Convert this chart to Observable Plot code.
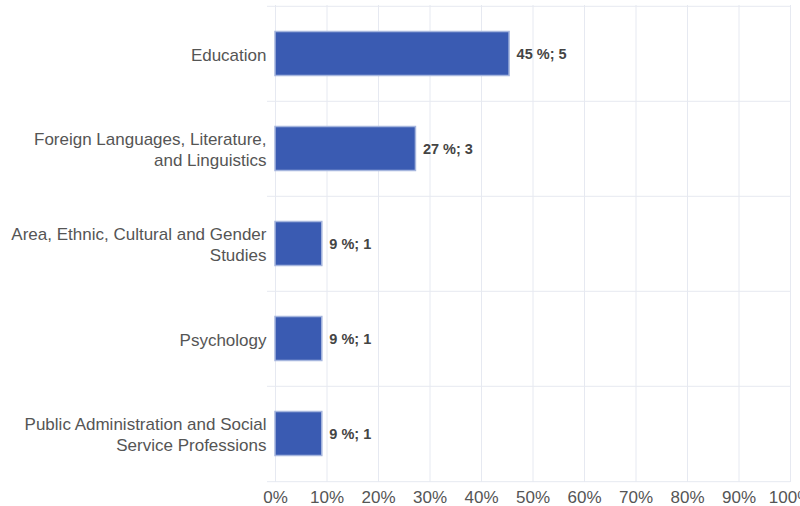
<!DOCTYPE html>
<html>
<head>
<meta charset="utf-8">
<script src="https://cdn.jsdelivr.net/npm/d3@7"></script>
<script src="https://cdn.jsdelivr.net/npm/@observablehq/plot@0.6"></script>
<style>
  html, body { margin: 0; padding: 0; background: #fff; overflow: hidden; }
  #chart svg { overflow: visible; }
</style>
</head>
<body>
<div id="chart"></div>
<script>
const categories = [
  "Education",
  "Foreign Languages, Literature,\nand Linguistics",
  "Area, Ethnic, Cultural and Gender\nStudies",
  "Psychology",
  "Public Administration and Social\nService Professions"
];
const counts = [5, 3, 1, 1, 1];
const percents = [45, 27, 9, 9, 9];
const total = 11;
const xTicks = [0, 0.1, 0.2, 0.3, 0.4, 0.5, 0.6, 0.7, 0.8, 0.9, 1];

const data = categories.map((c, i) => ({
  category: c,
  share: counts[i] / total,
  label: `${percents[i]} %; ${counts[i]}`
}));

const W = 800, H = 506;
const mTop = 5, mBottom = 24, mLeft = 275, mRight = 10;
const step = (H - mTop - mBottom) / categories.length;
const gridColor = "#e6e9f1";
const font = "'Liberation Sans', Arial, sans-serif";

const chart = Plot.plot({
  width: W,
  height: H,
  marginTop: mTop,
  marginBottom: mBottom,
  marginLeft: mLeft,
  marginRight: mRight,
  style: { fontFamily: font, background: "#fff" },
  x: { domain: [0, 1], ticks: xTicks, label: null, tickFormat: d => Math.round(d * 100) + "%" },
  y: { domain: categories, padding: 0, label: null },
  marks: [
    Plot.gridX(xTicks, { stroke: gridColor, strokeOpacity: 1 }),
    Plot.ruleY(categories, { y: d => d, dy: -step / 2, stroke: gridColor, insetLeft: -8 }),
    Plot.ruleY([categories[categories.length - 1]], { y: d => d, dy: step / 2, stroke: gridColor, insetLeft: -8 }),
    Plot.barX(data, {
      y: "category", x: "share",
      fill: "#3a5bb2", stroke: "#a6b6de", strokeWidth: 1.5,
      insetTop: 25.5, insetBottom: 25.5
    }),
    Plot.text(data, {
      y: "category", x: "share", text: "label",
      textAnchor: "start", dx: 7, fontWeight: "bold", fontSize: 14.5, fill: "#444"
    }),
    Plot.axisX(xTicks, {
      tickSize: 0, tickPadding: 8, fontSize: 17, fill: "#555", label: null,
      tickFormat: d => Math.round(d * 100) + "%"
    }),
    Plot.axisY({
      tickSize: 0, tickPadding: 9, fontSize: 17, fill: "#555", lineHeight: 1.25, label: null
    })
  ]
});
document.getElementById("chart").appendChild(chart);
</script>
</body>
</html>
